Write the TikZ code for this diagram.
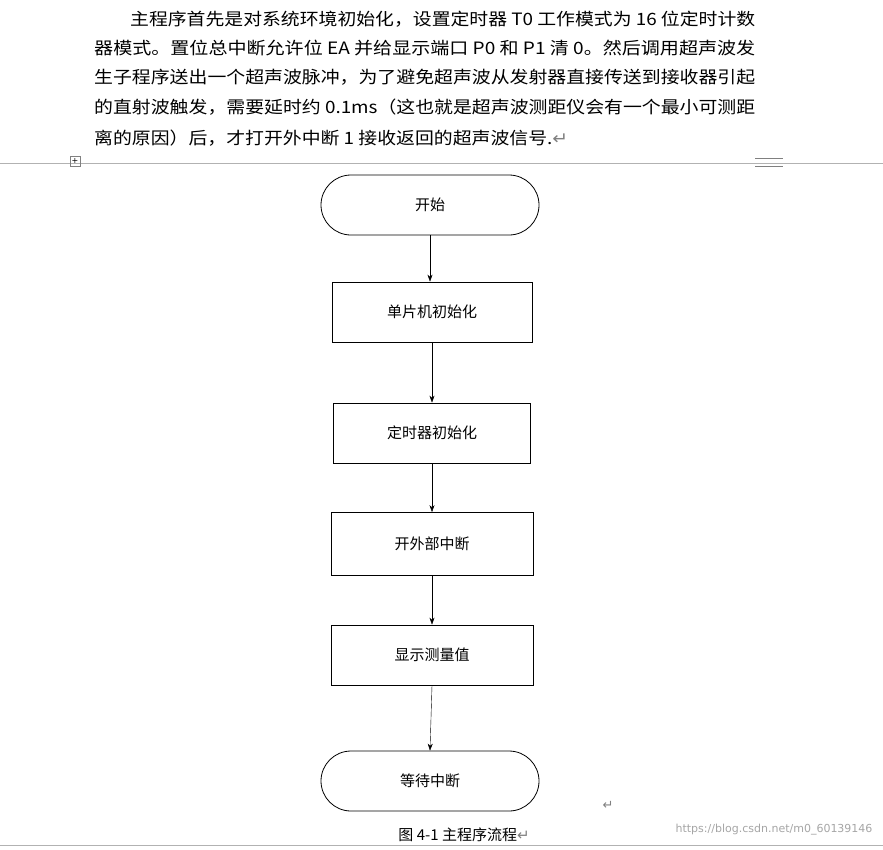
\documentclass[tikz,border=0pt]{standalone}
\usepackage{fontspec}
\usepackage{graphicx}
\setmainfont{Liberation Serif}
\newfontfamily\cjk{Noto Sans CJK SC}
\newfontfamily\dv{DejaVu Sans}
\usetikzlibrary{arrows.meta}
\begin{document}
\begin{tikzpicture}[x=1pt,y=-1pt,
  box/.style={draw,thick,minimum width=200pt,minimum height=60pt,font=\cjk\fontsize{15}{16}\selectfont},
  term/.style={draw,thick,rounded corners=30pt,minimum width=218pt,minimum height=60pt,font=\cjk\fontsize{15}{16}\selectfont},
  arr/.style={-{Stealth[length=7pt,width=5pt]},thin},
  para/.style={anchor=west,inner sep=0pt,font=\cjk\fontsize{17}{18}\selectfont}]
\useasboundingbox (0,0) rectangle (883,849);
\fill[white] (0,0) rectangle (883,849);
\node[para] (l1) at (130,19) {\resizebox{625pt}{\height}{主程序首先是对系统环境初始化，设置定时器 T0 工作模式为 16 位定时计数}};
\node[para] (l2) at (94,48) {\resizebox{661pt}{\height}{器模式。置位总中断允许位 EA 并给显示端口 P0 和 P1 清 0。然后调用超声波发}};
\node[para] (l3) at (94,77) {\resizebox{661pt}{\height}{生子程序送出一个超声波脉冲，为了避免超声波从发射器直接传送到接收器引起}};
\node[para] (l4) at (94,107) {\resizebox{661pt}{\height}{的直射波触发，需要延时约 0.1ms（这也就是超声波测距仪会有一个最小可测距}};
\node[para] (l5) at (94,138) {\resizebox{474pt}{\height}{离的原因）后，才打开外中断 1 接收返回的超声波信号.{\dv\color{gray}↵}}};
\draw[gray!60] (0,163) -- (883,163);
\draw[gray!60] (0,845) -- (883,845);
\node[draw=gray,minimum size=10pt,inner sep=0pt,font=\dv\fontsize{8}{8}\selectfont] (mk) at (75,161) {+};
\draw[gray] (755,158) -- (783,158) (755,166) -- (783,166);
\node[term] (s) at (430,205) {开始};
\node[box] (b1) at (432,312) {单片机初始化};
\node[box,minimum width=197pt] (b2) at (432,433) {定时器初始化};
\node[box,minimum width=202pt,minimum height=63pt] (b3) at (432,544) {开外部中断};
\node[box,minimum width=202pt] (b4) at (432,655) {显示测量值};
\node[term] (e) at (430,781) {等待中断};
\draw[arr] (s) -- (s|-b1.north);
\draw[arr] (b1) -- (b2);
\draw[arr] (b2) -- (b3);
\draw[arr] (b3) -- (b4);
\draw[arr] (b4.south) -- (e.north);
\node[font=\dv\fontsize{13}{13}\selectfont,gray] (rt) at (608,805) {↵};
\node[font=\cjk\fontsize{15}{16}\selectfont] (cap) at (464,835) {图 4-1 主程序流程{\dv\color{gray}↵}};
\node[font=\dv\fontsize{11}{12}\selectfont,gray!70,anchor=east] (wm) at (876,830) {https://blog.csdn.net/m0\_60139146};
\end{tikzpicture}
\end{document}
